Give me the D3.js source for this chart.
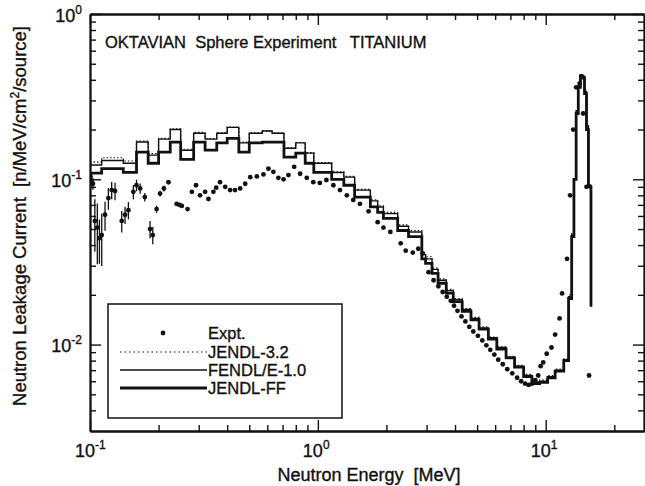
<!DOCTYPE html>
<html>
<head>
<meta charset="utf-8">
<script src="https://cdn.jsdelivr.net/npm/d3@7/dist/d3.min.js"></script>
<style>
  html, body { margin: 0; padding: 0; background: #fff; }
  svg { display: block; }
  text { font-family: "Liberation Sans", Arial, Helvetica, sans-serif; fill: #111;
         stroke: #111; stroke-width: 0.35px; }
</style>
</head>
<body>
<svg id="chart" width="645" height="486"></svg>
<script>
/* OKTAVIAN titanium sphere leakage spectrum */

// group boundaries [MeV]
const edges = [0.1, 0.1125, 0.14, 0.16, 0.18, 0.2, 0.225, 0.25, 0.285, 0.32, 0.36, 0.4, 0.45, 0.5,
  0.57, 0.63, 0.71, 0.8, 0.88, 0.96, 1.15, 1.3, 1.45, 1.7, 1.83, 1.94, 2.24, 2.5, 2.86, 2.97,
  3.17, 3.37, 3.66, 3.93, 4.3, 4.7, 5.1, 5.6, 6.1, 6.7, 7.3, 8.0, 8.7, 9.4, 10.2, 11.0, 12.0,
  12.6, 13.0, 13.3, 13.6, 13.9, 14.2, 14.5, 14.8, 15.1, 15.4, 15.8];

// calculated leakage per group
const jendlFF = [0.109, 0.116, 0.110, 0.146, 0.125, 0.146, 0.168, 0.132, 0.168, 0.150, 0.166,
  0.177, 0.146, 0.166, 0.168, 0.168, 0.136, 0.144, 0.125, 0.110, 0.100, 0.092, 0.078, 0.068,
  0.063, 0.058, 0.049, 0.045, 0.033, 0.031, 0.027, 0.0235, 0.0205, 0.0182, 0.0159, 0.0141,
  0.0124, 0.0108, 0.0094, 0.0083, 0.0073, 0.0064, 0.0058, 0.0059, 0.0063, 0.0069, 0.0080,
  0.019, 0.045, 0.10, 0.25, 0.36, 0.42, 0.41, 0.33, 0.20, 0.09];
const fendl = [0.122, 0.130, 0.125, 0.168, 0.140, 0.175, 0.200, 0.150, 0.190, 0.175, 0.190,
  0.206, 0.166, 0.190, 0.196, 0.190, 0.154, 0.166, 0.144, 0.125, 0.110, 0.103, 0.086, 0.074,
  0.068, 0.062, 0.052, 0.048, 0.035, 0.033, 0.0285, 0.0245, 0.0212, 0.0187, 0.0163, 0.0144,
  0.0126, 0.0110, 0.0096, 0.0084, 0.0074, 0.0065, 0.0059, 0.0060, 0.0064, 0.0070, 0.0081,
  0.0195, 0.046, 0.10, 0.26, 0.37, 0.43, 0.42, 0.34, 0.21, 0.092];
const jendl32 = [0.127, 0.135, 0.129, 0.170, 0.143, 0.177, 0.202, 0.152, 0.192, 0.176, 0.191,
  0.207, 0.168, 0.191, 0.197, 0.191, 0.155, 0.167, 0.145, 0.126, 0.111, 0.104, 0.087, 0.075,
  0.069, 0.063, 0.053, 0.049, 0.036, 0.034, 0.029, 0.025, 0.0216, 0.0190, 0.0165, 0.0146,
  0.0128, 0.0111, 0.0097, 0.0085, 0.0075, 0.0066, 0.0060, 0.0061, 0.0065, 0.0071, 0.0082,
  0.020, 0.047, 0.10, 0.26, 0.37, 0.43, 0.42, 0.34, 0.21, 0.093];
const tailValue = 0.017;   // value the histograms drop to at the last boundary

// measured points
const exptE = [0.1005, 0.1015, 0.103, 0.105, 0.1077, 0.110, 0.1126, 0.1164, 0.1204, 0.1245, 0.1288,
  0.1378, 0.1425, 0.1474, 0.155, 0.160, 0.166, 0.174, 0.1835, 0.1886, 0.196, 0.203, 0.211,
  0.221, 0.240, 0.247, 0.253, 0.268, 0.280, 0.292, 0.304, 0.320, 0.331, 0.348, 0.358, 0.372,
  0.392, 0.412, 0.433, 0.456, 0.480, 0.505, 0.540, 0.577, 0.607, 0.638, 0.671, 0.707, 0.743,
  0.787, 0.836, 0.894, 0.955, 1.02, 1.09, 1.17, 1.25, 1.34, 1.43, 1.53, 1.67, 1.83, 1.94,
  2.08, 2.31, 2.43, 2.61, 2.76, 2.88, 3.06, 3.22, 3.38, 3.53, 3.68, 3.83, 3.96, 4.10, 4.27,
  4.44, 4.62, 4.81, 5.04, 5.27, 5.49, 5.71, 5.95, 6.19, 6.48, 6.78, 7.13, 7.49, 7.80, 8.12,
  8.42, 8.72, 9.0, 9.27, 9.5, 9.75, 10.1, 10.6, 11.0, 11.5, 11.8, 12.4, 12.8, 13.2, 13.6,
  14.1, 14.6, 15.1, 15.5, 16.6];
const exptV = [0.104, 0.098, 0.094, 0.056, 0.051, 0.044, 0.046, 0.061, 0.077, 0.086, 0.085,
  0.056, 0.061, 0.065, 0.084, 0.092, 0.088, 0.078, 0.050, 0.046, 0.066, 0.082, 0.088,
  0.096, 0.071, 0.070, 0.069, 0.066, 0.084, 0.092, 0.080, 0.084, 0.076, 0.084, 0.089, 0.096,
  0.090, 0.086, 0.086, 0.088, 0.094, 0.103, 0.104, 0.107, 0.116, 0.111, 0.102, 0.100, 0.106,
  0.119, 0.108, 0.102, 0.096, 0.095, 0.099, 0.092, 0.086, 0.080, 0.075, 0.071, 0.064, 0.055,
  0.051, 0.048, 0.041, 0.037, 0.036, 0.038, 0.0356, 0.0274, 0.0245, 0.0225, 0.0208, 0.0195,
  0.0184, 0.0172, 0.0160, 0.0148, 0.0138, 0.0128, 0.0120, 0.0113, 0.0106, 0.0099,
  0.0093, 0.0087, 0.0081, 0.0076, 0.0071, 0.0067, 0.0063, 0.0060, 0.0058, 0.0057, 0.0058,
  0.0061, 0.0065, 0.0074, 0.0078, 0.0088, 0.0096, 0.0115, 0.0144, 0.0204, 0.033, 0.08, 0.2,
  0.36, 0.38, 0.25, 0.09, 0.0065];
// relative error (only the low-energy points have visible bars)
const exptErr = [0.05, 0.06, 0.08, 0.35, 0.4, 0.3, 0.35, 0.2, 0.15, 0.12, 0.12, 0.15, 0.12, 0.12,
  0.1, 0.08, 0.07, 0.06, 0.12, 0.12, 0.05, 0.04, 0.04, 0.03];

const xTicksMajor = [0.1, 1, 10];
const xTicksMinor = [0.2, 0.3, 0.4, 0.5, 0.6, 0.7, 0.8, 0.9, 2, 3, 4, 5, 6, 7, 8, 9, 20];
const xTickExp = ['-1', '0', '1'];
const yTicksMajor = [0.01, 0.1, 1];
const yTicksMinor = [0.004, 0.005, 0.006, 0.007, 0.008, 0.009, 0.02, 0.03, 0.04, 0.05,
  0.06, 0.07, 0.08, 0.09, 0.2, 0.3, 0.4, 0.5, 0.6, 0.7, 0.8, 0.9];
const yTickExp = ['-2', '-1', '0'];

const legendItems = ['Expt.', 'JENDL-3.2', 'FENDL/E-1.0', 'JENDL-FF'];

(function () {
  'use strict';

  const svg = d3.select('#chart');
  const L = 90, R = 644, T = 14, B = 431;

  const x = d3.scaleLog().domain([0.1, 27]).range([L, R]);
  const y = d3.scaleLog().domain([0.003, 1]).range([B, T]);

  /* ---------- histograms ---------- */
  function stepPoints(vals) {
    const pts = [];
    vals.forEach((v, i) => {
      pts.push([edges[i], v], [edges[i + 1], v]);
    });
    pts.push([edges[edges.length - 1], tailValue]);
    return pts;
  }
  const line = d3.line().x(d => x(d[0])).y(d => y(d[1]));

  svg.append('clipPath').attr('id', 'plot-clip')
    .append('rect').attr('x', L).attr('y', T).attr('width', R - L).attr('height', B - T);

  const plot = svg.append('g').attr('clip-path', 'url(#plot-clip)');

  plot.append('path')
    .attr('d', line(stepPoints(jendl32)))
    .attr('fill', 'none').attr('stroke', '#111')
    .attr('stroke-width', 1.2).attr('stroke-dasharray', '1.5,2');

  plot.append('path')
    .attr('d', line(stepPoints(fendl)))
    .attr('fill', 'none').attr('stroke', '#111').attr('stroke-width', 1.4);

  plot.append('path')
    .attr('d', line(stepPoints(jendlFF)))
    .attr('fill', 'none').attr('stroke', '#111').attr('stroke-width', 2.8);

  /* ---------- experiment ---------- */
  exptErr.forEach((e, i) => {
    plot.append('line')
      .attr('x1', x(exptE[i])).attr('x2', x(exptE[i]))
      .attr('y1', y(exptV[i] * (1 - e))).attr('y2', y(exptV[i] * (1 + e)))
      .attr('stroke', '#111').attr('stroke-width', 1.3);
  });
  plot.append('g').selectAll('circle')
    .data(exptE)
    .join('circle')
    .attr('cx', d => x(d))
    .attr('cy', (d, i) => y(exptV[i]))
    .attr('r', 2.4)
    .attr('fill', '#111');

  /* ---------- axes ---------- */
  const makers = [
    [() => d3.axisBottom(x), `translate(0,${B})`, xTicksMajor, xTicksMinor],
    [() => d3.axisTop(x), `translate(0,${T})`, xTicksMajor, xTicksMinor],
    [() => d3.axisLeft(y), `translate(${L},0)`, yTicksMajor, yTicksMinor],
    [() => d3.axisRight(y), `translate(${R},0)`, yTicksMajor, yTicksMinor],
  ];
  makers.forEach(([mk, tr, major, minor]) => {
    [[minor, 6], [major, 11]].forEach(([vals, len]) => {
      const g = svg.append('g').attr('transform', tr)
        .call(mk().tickValues(vals).tickSizeInner(-len).tickSizeOuter(0).tickFormat(''));
      g.select('.domain').attr('stroke', '#111').attr('stroke-width', 1.8);
      g.selectAll('.tick line').attr('stroke', '#111').attr('stroke-width', 1.4);
    });
  });

  // tick labels with superscript exponents
  xTicksMajor.forEach((v, i) => {
    const t = svg.append('text')
      .attr('x', x(v) - 15).attr('y', 457)
      .attr('font-size', 18);
    t.append('tspan').text('10');
    t.append('tspan').attr('dy', -8).attr('font-size', 12).text(xTickExp[i]);
  });
  yTicksMajor.forEach((v, i) => {
    const t = svg.append('text')
      .attr('x', 82).attr('y', y(v) + 7.5)
      .attr('text-anchor', 'end').attr('font-size', 18);
    t.append('tspan').text('10');
    t.append('tspan').attr('dy', -8).attr('font-size', 12).text(yTickExp[i]);
  });

  /* ---------- titles ---------- */
  svg.append('text')
    .attr('x', 369).attr('y', 481)
    .attr('text-anchor', 'middle').attr('font-size', 18)
    .attr('xml:space', 'preserve')
    .text('Neutron Energy  [MeV]');

  const yt = svg.append('text')
    .attr('transform', 'translate(26,216) rotate(-90)')
    .attr('text-anchor', 'middle').attr('font-size', 18.5)
    .attr('xml:space', 'preserve');
  yt.append('tspan').text('Neutron Leakage Current  [n/MeV/cm');
  yt.append('tspan').attr('dy', -7).attr('font-size', 12).text('2');
  yt.append('tspan').attr('dy', 7).text('/source]');

  svg.append('text')
    .attr('x', 105).attr('y', 48)
    .attr('font-size', 16.5)
    .attr('xml:space', 'preserve')
    .text('OKTAVIAN  Sphere Experiment   TITANIUM');

  /* ---------- legend ---------- */
  const lg = svg.append('g');
  lg.append('rect')
    .attr('x', 108).attr('y', 304).attr('width', 234).attr('height', 114)
    .attr('fill', '#fff').attr('stroke', '#111').attr('stroke-width', 1.5);

  const rowY = [333, 352, 370, 388];
  legendItems.forEach((name, i) => {
    const yy = rowY[i];
    if (i === 0) {
      lg.append('circle').attr('cx', 163).attr('cy', yy).attr('r', 2.4).attr('fill', '#111');
    } else {
      lg.append('line')
        .attr('x1', 120).attr('x2', 207).attr('y1', yy).attr('y2', yy)
        .attr('stroke', '#111')
        .attr('stroke-width', i === 3 ? 2.8 : (i === 2 ? 1.4 : 1.2))
        .attr('stroke-dasharray', i === 1 ? '1.5,3' : null);
    }
    lg.append('text')
      .attr('x', 208).attr('y', yy + 6)
      .attr('font-size', 16.5)
      .text(name);
  });
})();
</script>
</body>
</html>
